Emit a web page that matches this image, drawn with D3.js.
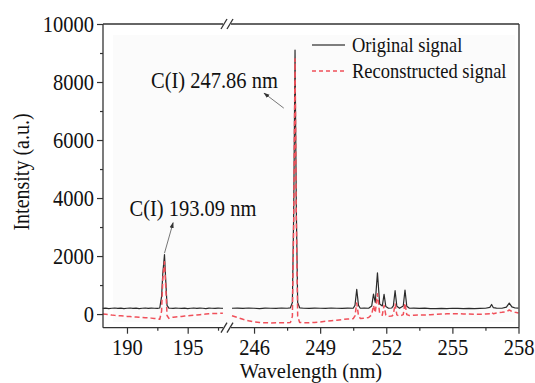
<!DOCTYPE html>
<html><head><meta charset="utf-8">
<script src="https://cdn.jsdelivr.net/npm/d3@7"></script>
<style>
html,body{margin:0;padding:0;background:#fff;}
svg{display:block;}
text{font-family:"Liberation Serif","Times New Roman",serif;fill:#111;}
</style></head>
<body>
<svg id="chart" width="535" height="383"></svg>
<script>
// ---- data ----
const leftWavelength = [188.0,188.25,188.5,188.75,189.0,189.25,189.5,189.75,190.0,190.25,190.5,190.75,191.0,191.25,191.5,191.75,192.0,192.25,192.5,192.7,192.85,192.95,193.09,193.2,193.3,193.45,193.6,193.8,194.0,194.25,194.5,194.75,195.0,195.25,195.5,195.75,196.0,196.25,196.5,196.75,197.0,197.25,197.5,197.75,197.9];
const leftOriginal = [195,205,190,200,210,195,205,190,200,210,195,205,190,200,210,195,205,200,195,210,600,1400,2050,1100,300,205,200,195,205,200,195,205,190,200,210,195,205,200,190,205,200,195,205,200,195];
const leftReconstructed = [0,-10,-20,-35,-45,-55,-60,-70,-80,-85,-95,-100,-110,-115,-125,-130,-140,-150,-160,-180,100,1200,1800,900,-50,-150,-120,-110,-100,-90,-80,-70,-60,-50,-40,-30,-20,-10,0,10,15,20,25,30,30];

const rightWavelength = [245.0,245.25,245.5,245.75,246.0,246.25,246.5,246.75,247.0,247.25,247.5,247.65,247.74,247.8,247.86,247.92,247.98,248.07,248.25,248.5,248.75,249.0,249.25,249.5,249.75,250.0,250.25,250.5,250.58,250.66,250.74,250.82,251.0,251.2,251.34,251.42,251.5,251.6,251.7,251.82,251.9,251.98,252.1,252.25,252.32,252.4,252.48,252.6,252.77,252.85,252.93,253.05,253.25,253.5,253.75,254.0,254.25,254.5,254.75,255.0,255.25,255.5,255.75,256.0,256.25,256.5,256.7,256.78,256.86,257.0,257.25,257.45,257.58,257.7,257.85,258.0];
const rightOriginal = [200,205,195,210,200,190,205,200,195,210,200,215,400,3500,9100,3500,400,215,200,195,205,200,195,210,200,195,205,200,300,850,300,200,205,200,280,690,400,1425,350,280,680,260,200,210,280,805,270,200,280,830,270,200,205,195,205,190,185,195,190,200,195,185,195,190,195,200,230,330,220,205,200,240,380,250,210,205];
const rightReconstructed = [-60,-120,-180,-230,-270,-290,-300,-305,-300,-300,-300,-290,-80,3200,8800,3200,-80,-290,-300,-300,-290,-270,-250,-230,-210,-190,-170,-160,-60,380,-60,-150,-140,-120,-20,300,50,700,20,-40,300,-40,-80,-70,-20,350,-30,-70,-20,380,-20,-50,-40,-35,-30,-20,-10,0,10,15,10,5,0,-5,-10,0,10,60,10,40,60,80,140,90,60,40];

const yMajorTicks = [0,2000,4000,6000,8000,10000];
const yMinorTicks = [1000,3000,5000,7000,9000];
const xLeftMajor = [190,195];
const xLeftMinor = [192.5,197.5];
const xRightMajor = [246,249,252,255,258];
const xRightMinor = [247.5,250.5,253.5,256.5];
const seriesNames = ["Original signal","Reconstructed signal"];
const annotations = [
  {label:"C(I) 247.86 nm", peak:247.86},
  {label:"C(I) 193.09 nm", peak:193.09}
];

// ---- layout ----
const L = 103, R = 519, T = 24, B = 327.7;
const breakA = 223, breakB = 231;
const SY = 1.13; // vertical glyph stretch seen in the reference
const svg = d3.select("#chart");

const xL = d3.scaleLinear().domain([188,198]).range([102.7,224.1]);
const xR = d3.scaleLinear().domain([245,258]).range([232,518.5]);
const y = d3.scaleLinear().domain([-470,10000]).range([B,T]);

const black = "#2b2b2b", red = "#f0505a";

function addText(parent, x, yy, str, size, anchor, rotate, sy){
  const g = parent.append("g").attr("transform",`translate(${x},${yy})` + (rotate?` rotate(${rotate})`:""));
  g.append("text").attr("transform",`scale(1,${sy||SY})`).attr("font-size",size+"px")
    .attr("text-anchor",anchor||"start").text(str);
  return g;
}

// faint plot background
svg.append("rect").attr("x",113).attr("y",35).attr("width",402).attr("height",287).attr("fill","#fbfbfb");

// lines
function drawSeries(xs, wl, vals, color, dash, width){
  const pts = wl.map((w,i)=>[xs(w), y(vals[i])]);
  svg.append("path").attr("d", d3.line()(pts)).attr("fill","none")
    .attr("stroke",color).attr("stroke-width",width)
    .attr("stroke-dasharray",dash).attr("stroke-linejoin","round");
}
drawSeries(xL,leftWavelength,leftOriginal,black,null,1.2);
drawSeries(xR,rightWavelength,rightOriginal,black,null,1.2);
drawSeries(xL,leftWavelength,leftReconstructed,red,"5,3",1.5);
drawSeries(xR,rightWavelength,rightReconstructed,red,"5,3",1.5);

// frame with breaks
const frame = svg.append("g").attr("stroke","#333").attr("stroke-width",1.3).attr("fill","none");
frame.append("line").attr("x1",L).attr("x2",L).attr("y1",T).attr("y2",B);
frame.append("line").attr("x1",R).attr("x2",R).attr("y1",T).attr("y2",B);
[T,B].forEach(yy=>{
  frame.append("line").attr("x1",L).attr("x2",breakA).attr("y1",yy).attr("y2",yy);
  frame.append("line").attr("x1",breakB).attr("x2",R).attr("y1",yy).attr("y2",yy);
  [breakA-1, breakB-3].forEach(bx=>{
    frame.append("line").attr("x1",bx-1).attr("y1",yy+5).attr("x2",bx+5).attr("y2",yy-5);
  });
});

// axes
function styleAxis(g){
  g.select(".domain").remove();
  g.selectAll(".tick line").attr("stroke","#333").attr("stroke-width",1.2);
  g.selectAll(".tick text").attr("font-size","20.5px").attr("fill","#111")
    .attr("font-family","Liberation Serif, Times New Roman, serif");
}
function bottomLabels(g){
  g.selectAll(".tick text").attr("y",null).attr("dy",null)
    .attr("transform",`translate(0,354.5) scale(1,${SY})`);
}
function leftLabels(g){
  g.selectAll(".tick text").attr("x",null).attr("dy",null)
    .attr("transform",`translate(-9,7.5) scale(1,${SY})`);
}
svg.append("g").attr("transform",`translate(${L},0)`)
  .call(d3.axisLeft(y).tickValues(yMajorTicks).tickSize(6).tickFormat(d3.format("d")))
  .call(styleAxis).call(leftLabels);
svg.append("g").attr("transform",`translate(${L},0)`)
  .call(d3.axisLeft(y).tickValues(yMinorTicks).tickSize(3).tickFormat(""))
  .call(styleAxis);
svg.append("g")
  .call(d3.axisBottom(xL).tickValues(xLeftMajor).tickSize(6).tickFormat(d3.format("d")))
  .call(styleAxis).call(bottomLabels)
  .selectAll(".tick line").attr("y1",B).attr("y2",B+6);
svg.append("g")
  .call(d3.axisBottom(xL).tickValues(xLeftMinor).tickSize(3).tickFormat(""))
  .call(styleAxis).selectAll(".tick line").attr("y1",B).attr("y2",B+3);
svg.append("g")
  .call(d3.axisBottom(xR).tickValues(xRightMajor).tickSize(6).tickFormat(d3.format("d")))
  .call(styleAxis).call(bottomLabels)
  .selectAll(".tick line").attr("y1",B).attr("y2",B+6);
svg.append("g")
  .call(d3.axisBottom(xR).tickValues(xRightMinor).tickSize(3).tickFormat(""))
  .call(styleAxis).selectAll(".tick line").attr("y1",B).attr("y2",B+3);

// axis titles
addText(svg,(L+R)/2,378,"Wavelength (nm)",20.5,"middle",null,1.0);
addText(svg,29,172,"Intensity (a.u.)",20,"middle",-90);

// legend
const lg = svg.append("g");
lg.append("line").attr("x1",312).attr("x2",345).attr("y1",45).attr("y2",45).attr("stroke","#555").attr("stroke-width",1.5);
lg.append("line").attr("x1",312).attr("x2",345).attr("y1",71).attr("y2",71).attr("stroke",red).attr("stroke-width",1.5).attr("stroke-dasharray","4,3");
addText(lg,352,51.5,seriesNames[0],18.5);
addText(lg,352,77.5,seriesNames[1],18.5);

// annotations
const defs = svg.append("defs");
defs.append("marker").attr("id","ah").attr("viewBox","0 0 10 10").attr("refX",9).attr("refY",5)
  .attr("markerWidth",6).attr("markerHeight",6).attr("orient","auto")
  .append("path").attr("d","M0,1.5 L10,5 L0,8.5 Z").attr("fill","#333");
const a1 = annotations[0], a2 = annotations[1];
addText(svg,151,88,a1.label,20.5);
svg.append("line").attr("x1",xR(247.35)).attr("y1",y(7100)).attr("x2",xR(246.45)).attr("y2",y(7620))
  .attr("stroke","#777").attr("stroke-width",1).attr("marker-end","url(#ah)");
addText(svg,129.5,216,a2.label,20.5);
svg.append("line").attr("x1",xL(a2.peak)).attr("y1",y(2100)).attr("x2",xL(193.8)).attr("y2",y(3150))
  .attr("stroke","#777").attr("stroke-width",1).attr("marker-end","url(#ah)");
</script>
</body></html>
